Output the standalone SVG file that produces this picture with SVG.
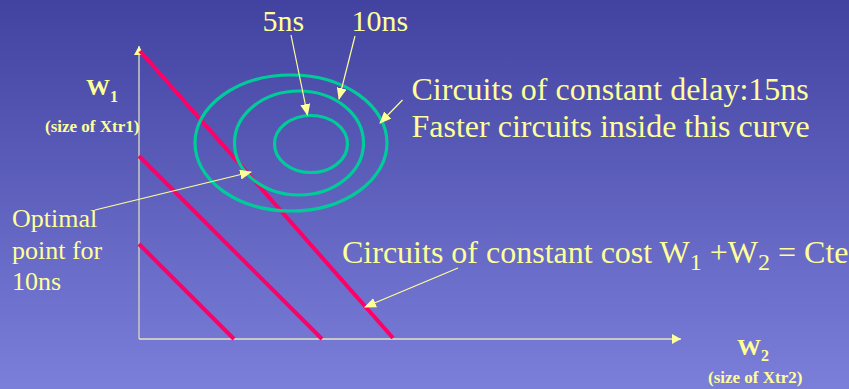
<svg xmlns="http://www.w3.org/2000/svg" width="849" height="389" viewBox="0 0 849 389">
<defs>
<linearGradient id="bg" x1="0" y1="0" x2="0" y2="1">
<stop offset="0" stop-color="#4242a0"/>
<stop offset="1" stop-color="#7b7fda"/>
</linearGradient>
<marker id="ah" markerUnits="userSpaceOnUse" markerWidth="12" markerHeight="10" refX="11" refY="5" orient="auto">
<path d="M0,0 L12,5 L0,10 Z" fill="#ffff99"/>
</marker>
<marker id="axh" markerUnits="userSpaceOnUse" markerWidth="10" markerHeight="10" refX="9" refY="5" orient="auto">
<path d="M0,0 L9,5 L0,10 Z" fill="#ffff99"/>
</marker>
</defs>
<style>
.t{fill:#ffff99;font-family:"Liberation Serif","Times New Roman",serif}
.b{font-weight:bold}
.red{stroke:#ff0066;stroke-width:4;stroke-linecap:butt}
.grn{fill:none;stroke:#00cc99;stroke-width:3.2}
.lead{stroke:#ffff99;stroke-width:1.2;fill:none;marker-end:url(#ah)}
</style>
<rect width="849" height="389" fill="url(#bg)"/>
<g id="axes">
<line x1="139" y1="339" x2="139" y2="46" stroke="#c4c4c4" stroke-width="1.6" marker-end="url(#axh)"/>
<line x1="139" y1="339" x2="681" y2="339" stroke="#e4e4c0" stroke-width="1.6" marker-end="url(#axh)"/>
</g>
<g id="cost-lines">
<line class="red" x1="140" y1="51" x2="393" y2="338"/>
<line class="red" x1="139" y1="156" x2="322" y2="339"/>
<line class="red" x1="139" y1="244" x2="234" y2="339"/>
</g>
<g id="delay-curves">
<ellipse class="grn" cx="291" cy="143" rx="96" ry="68"/>
<ellipse class="grn" cx="299" cy="143" rx="64.5" ry="52"/>
<ellipse class="grn" cx="311" cy="144" rx="36.5" ry="28.5"/>
</g>
<g id="connectors">
<line class="lead" x1="291" y1="35" x2="307.5" y2="115"/>
<line class="lead" x1="355" y1="36" x2="339" y2="99"/>
<line class="lead" x1="402.5" y1="100" x2="380" y2="123"/>
<line class="lead" x1="95" y1="210" x2="251" y2="172"/>
<line class="lead" x1="458" y1="268" x2="365" y2="307"/>
</g>
<g id="label-w1">
<text class="t b" x="86" y="95" font-size="24">W<tspan font-size="16" dy="6.5">1</tspan></text>
<text class="t b" x="45" y="131.5" font-size="17">(size of Xtr1)</text>
</g>
<g id="label-w2">
<text class="t b" x="737" y="355" font-size="24">W<tspan font-size="16" dy="6">2</tspan></text>
<text class="t b" x="708" y="382.5" font-size="17">(size of Xtr2)</text>
</g>
<g id="label-5ns"><text class="t" x="262.5" y="30.5" font-size="30">5ns</text></g>
<g id="label-10ns"><text class="t" x="351.5" y="30.5" font-size="30">10ns</text></g>
<g id="label-delay">
<text class="t" x="411.5" y="100" font-size="32">Circuits of constant delay:15ns</text>
<text class="t" x="411.5" y="137" font-size="32">Faster circuits inside this curve</text>
</g>
<g id="label-optimal">
<text class="t" x="12" y="227" font-size="26">Optimal</text>
<text class="t" x="12" y="259" font-size="26">point for</text>
<text class="t" x="12" y="290" font-size="26">10ns</text>
</g>
<g id="label-cost">
<text class="t" x="342" y="263" font-size="32">Circuits of constant cost W<tspan font-size="24" dy="7">1</tspan><tspan dy="-7"> +W</tspan><tspan font-size="24" dy="7">2</tspan><tspan dy="-7"> = Cte</tspan></text>
</g>
</svg>
